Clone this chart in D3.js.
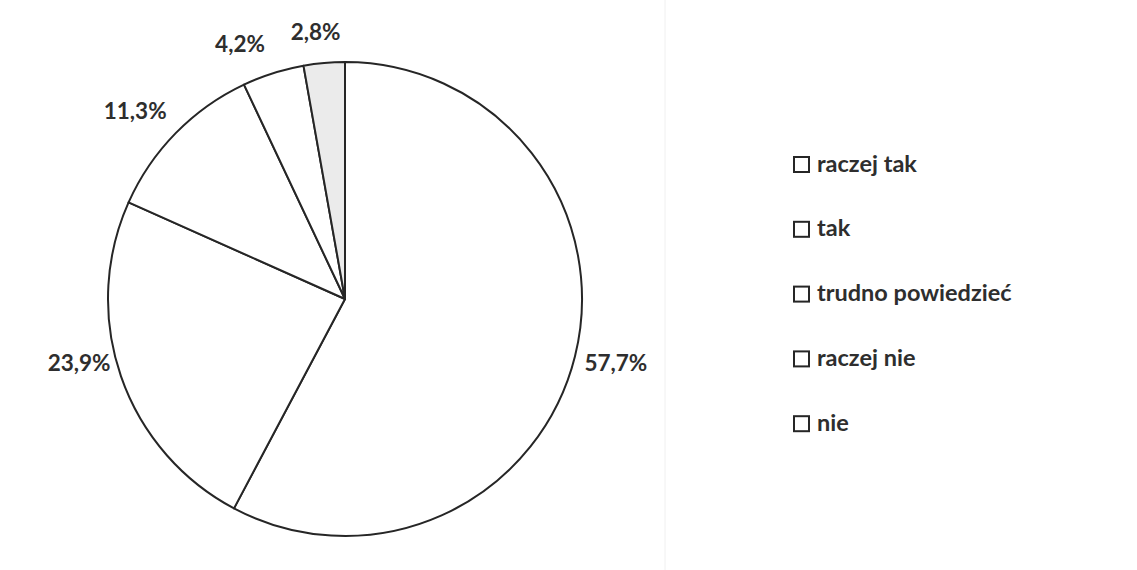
<!DOCTYPE html>
<html>
<head>
<meta charset="utf-8">
<script src="https://cdn.jsdelivr.net/npm/d3@7"></script>
<style>
  body { margin: 0; background: #fff; }
  text { font-family: Lato, "Open Sans", sans-serif; font-weight: bold; fill: #2e2e2e; }
</style>
</head>
<body>
<script>
var categories = ["raczej tak", "tak", "trudno powiedzieć", "raczej nie", "nie"];
var values = [57.7, 23.9, 11.3, 4.2, 2.8];
var labels = ["57,7%", "23,9%", "11,3%", "4,2%", "2,8%"];
var fills = ["#ffffff", "#ffffff", "#ffffff", "#ffffff", "#ebebeb"];

var W = 1137, H = 570;
var svg = d3.select("body").append("svg").attr("width", W).attr("height", H);

// faint scan edge
svg.append("line").attr("x1", 665).attr("x2", 665).attr("y1", 0).attr("y2", H)
  .attr("stroke", "#f0f0f0").attr("stroke-width", 1);

var cx = 345, cy = 299, r = 237;
var data = categories.map(function (c, i) { return { cat: c, v: values[i], lab: labels[i], fill: fills[i] }; });

var pie = d3.pie().sort(null).value(function (d) { return d.v; });
var arc = d3.arc().innerRadius(0).outerRadius(r);
var g = svg.append("g").attr("transform", "translate(" + cx + "," + cy + ")");

var arcs = pie(data);
g.selectAll("path").data(arcs).enter().append("path")
  .attr("d", arc)
  .attr("fill", function (d) { return d.data.fill; })
  .attr("stroke", "#262626")
  .attr("stroke-width", 2)
  .attr("stroke-linejoin", "round");

// labels outside the slices (nudged like Excel's "outside end")
var labelArc = d3.arc().innerRadius(r + 40).outerRadius(r + 40);
var offsets = [[2, -2], [-4, -25], [-12, 7], [-21, 10], [-5, 10]];
g.selectAll("text.lab").data(arcs).enter().append("text")
  .attr("class", "lab")
  .attr("text-anchor", "middle")
  .attr("font-size", 22.5)
  .attr("x", function (d, i) { return labelArc.centroid(d)[0] + offsets[i][0]; })
  .attr("y", function (d, i) { return labelArc.centroid(d)[1] + 7 + offsets[i][1]; })
  .text(function (d) { return d.data.lab; });

// legend
var leg = svg.append("g").attr("transform", "translate(793,157)");
var item = leg.selectAll("g").data(data).enter().append("g")
  .attr("transform", function (d, i) { return "translate(0," + (i * 64.8) + ")"; });
item.append("rect").attr("x", 1).attr("y", 0).attr("width", 15).attr("height", 15)
  .attr("fill", "#fff").attr("stroke", "#262626").attr("stroke-width", 2);
item.append("text").attr("x", 24).attr("y", 14.5).attr("font-size", 23.5)
  .text(function (d) { return d.cat; });
</script>
</body>
</html>
